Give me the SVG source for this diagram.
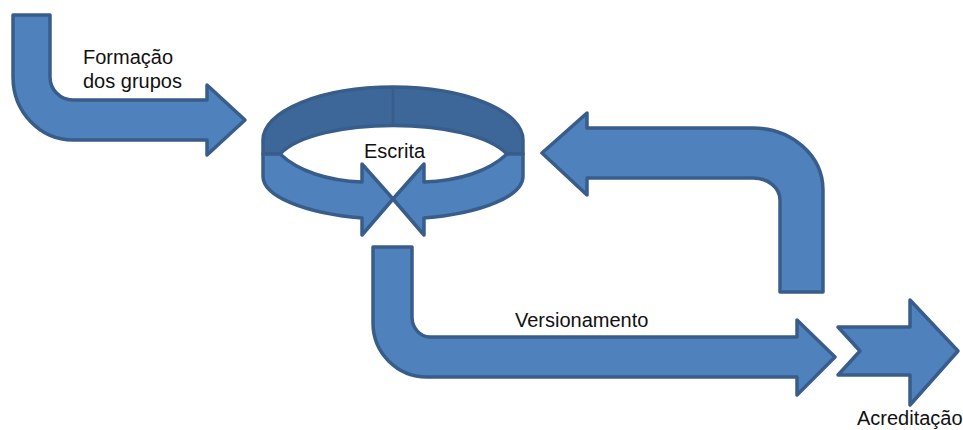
<svg xmlns="http://www.w3.org/2000/svg" width="963" height="430" viewBox="0 0 963 430">
<style>
.shape{fill:#4F81BD;stroke:#385D8A;stroke-width:3.5;stroke-linejoin:round}
.back{fill:#3D6699;stroke:#385D8A;stroke-width:3.5;stroke-linejoin:round}
.lbl{font-family:"Liberation Sans",Arial,sans-serif;font-size:20px;fill:#111}
</style>
<rect width="963" height="430" fill="#ffffff"/>
<g id="connectors">
  <g id="arrow-formacao">
    <path class="shape" d="M13,15 L50,15 L50,77 A23,23 0 0 0 73,100 L207,100 L207,85 L245,120 L207,155 L207,140 L73,140 A60,63 0 0 1 13,77 Z"/>
    <text class="lbl" x="83" y="64">Formação</text>
    <text class="lbl" x="83" y="88">dos grupos</text>
  </g>
  <g id="arrow-retorno">
    <path class="shape" d="M542,153 L587,113 L587,128 L753,128 A70,62 0 0 1 823,190 L823,292 L780,292 L780,200 A27,22 0 0 0 753,178 L587,178 L587,195 Z"/>
  </g>
  <g id="arrow-versionamento">
    <path class="shape" d="M373,247 L412,247 L412,317 A18,20 0 0 0 430,337 L797,337 L797,320 L835,357 L797,395 L797,377 L427,377 A54,54 0 0 1 373,323 Z"/>
    <text class="lbl" x="515" y="327">Versionamento</text>
  </g>
</g>
<g id="node-escrita">
  <path class="back" d="M263,154 L263,140 A130,53 0 0 1 523,140 L523,154 L507,154 C470,116 316,116 280,154 Z"/>
  <line x1="393" y1="88" x2="393" y2="126" stroke="#385D8A" stroke-width="2.5"/>
  <path class="shape" d="M263,154 L280,154 C298,171 328,181 362,182 L362,164 L393,199 L362,235 L362,218 A130,43 0 0 1 263,176 Z"/>
  <path class="shape" d="M523,154 L507,154 C489,171 459,181 424,182 L424,164 L393,199 L424,235 L424,218 A130,43 0 0 0 523,176 Z"/>
  <text class="lbl" x="364" y="158">Escrita</text>
</g>
<g id="node-acreditacao">
  <path class="shape" d="M838,327 L910,327 L910,300 L958,351 L910,405 L910,375 L838,375 L860,351 Z"/>
  <text class="lbl" x="857" y="425">Acreditação</text>
</g>
</svg>
